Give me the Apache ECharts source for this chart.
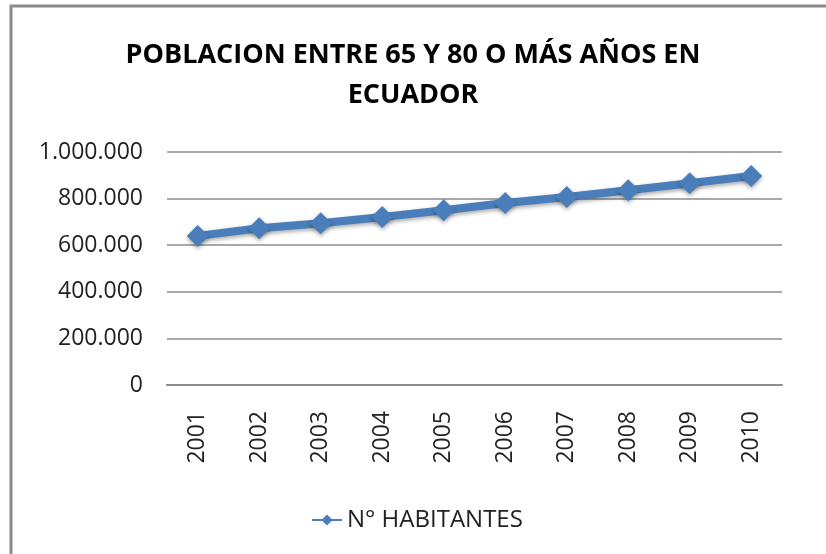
<!DOCTYPE html>
<html>
<head>
<meta charset="utf-8">
<script src="https://cdn.jsdelivr.net/npm/echarts@6/dist/echarts.min.js"></script>
<style>
  html, body { margin: 0; padding: 0; background: #fff; }
  #chart { width: 826px; height: 554px; }
</style>
</head>
<body>
<div id="chart"></div>
<script>
  // datos
  var years = ['2001', '2002', '2003', '2004', '2005', '2006', '2007', '2008', '2009', '2010'];
  var habitantes = [640000, 673000, 694000, 721000, 750000, 781000, 807000, 836000, 866000, 897000];
  var seriesName = 'N° HABITANTES';
  var titleText = 'POBLACION ENTRE 65 Y 80 O MÁS AÑOS EN\nECUADOR';

  var blue = '#4a7ebb';
  var font = '"Open Sans", sans-serif';

  var chart = echarts.init(document.getElementById('chart'));

  function fmt(v) {
    return String(v).replace(/\B(?=(\d{3})+(?!\d))/g, '.');
  }

  chart.setOption({
    backgroundColor: '#fff',
    animation: false,
    graphic: [
      {
        type: 'rect',
        shape: { x: 11, y: 6, width: 840, height: 580 },
        style: { fill: 'none', stroke: '#8a8a8a', lineWidth: 3 },
        silent: true
      }
    ],
    title: {
      text: titleText,
      left: 'center',
      top: 30,
      textStyle: {
        fontFamily: font,
        fontWeight: 'bold',
        fontSize: 27,
        lineHeight: 40,
        color: '#000'
      }
    },
    grid: {
      left: 167,
      right: 44,
      top: 152,
      bottom: 169
    },
    legend: {
      data: [seriesName],
      left: 306,
      top: 503,
      itemWidth: 30,
      itemHeight: 14,
      itemGap: 4,
      textStyle: {
        fontFamily: font,
        fontSize: 24,
        color: '#222'
      }
    },
    xAxis: {
      type: 'category',
      data: years,
      boundaryGap: true,
      axisLine: { lineStyle: { color: '#8c8c8c', width: 2 } },
      axisTick: { show: false },
      axisLabel: {
        rotate: 90,
        margin: 26,
        fontFamily: font,
        fontSize: 23,
        color: '#222'
      }
    },
    yAxis: {
      type: 'value',
      min: 0,
      max: 1000000,
      interval: 200000,
      axisLine: { show: false },
      axisTick: { show: false },
      splitLine: { lineStyle: { color: '#8c8c8c', width: 1.5 } },
      axisLabel: {
        margin: 24,
        fontFamily: font,
        fontSize: 23,
        color: '#222',
        formatter: fmt
      }
    },
    series: [
      {
        name: seriesName,
        type: 'line',
        data: habitantes,
        symbol: 'diamond',
        symbolSize: 22,
        lineStyle: {
          color: blue,
          width: 8,
          shadowColor: 'rgba(0,0,0,0.35)',
          shadowBlur: 4,
          shadowOffsetY: 2
        },
        itemStyle: {
          color: blue,
          shadowColor: 'rgba(0,0,0,0.35)',
          shadowBlur: 4,
          shadowOffsetY: 2
        }
      }
    ]
  });
</script>
</body>
</html>
